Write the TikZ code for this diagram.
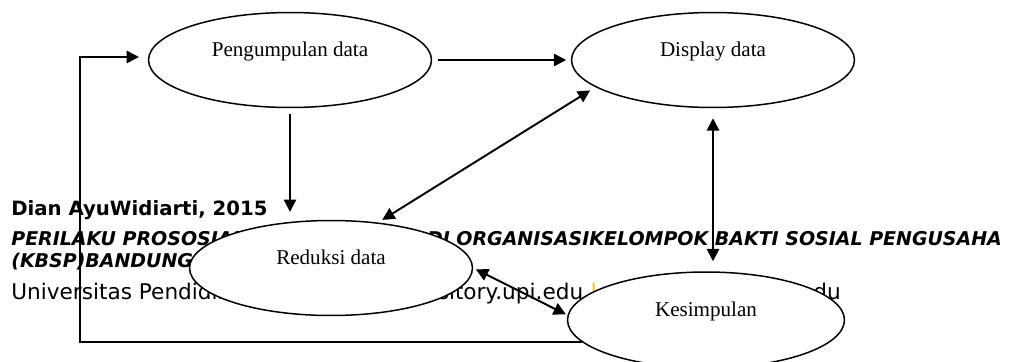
\documentclass[tikz,border=0pt]{standalone}
\usepackage{fontspec}
\setmainfont{Liberation Serif}
\newfontfamily\footfont{DejaVu Sans}
\usetikzlibrary{shapes.geometric,arrows.meta}
\definecolor{upibar}{RGB}{255,192,0}

\begin{document}
\begin{tikzpicture}[x=0.02cm,y=-0.02cm,
    proc/.style={ellipse,draw,fill=white,line width=0.85pt,inner sep=0pt,
      minimum width=5.66cm,minimum height=1.9cm,text height=8pt,text depth=12pt,
      font=\fontsize{12}{14}\selectfont},
    arr/.style={line width=1.1pt,-{Triangle[length=7pt,width=7pt]}},
    both/.style={line width=1.1pt,{Triangle[length=7pt,width=7pt]}-{Triangle[length=7pt,width=7pt]}},
    foot/.style={anchor=base west,inner sep=0pt,font=\footfont\fontsize{10.8}{13}\selectfont}]
  \useasboundingbox (0,0) rectangle (1022,362);
  \node[foot,font=\footfont\fontsize{11.2}{13}\selectfont] (author) at (11,215) {\bfseries Dian AyuWidiarti, 2015};
  \node[foot] (title) at (11,245) {\bfseries\itshape PERILAKU PROSOSIAL SUKARELAWAN \ DI ORGANISASIKELOMPOK BAKTI SOSIAL PENGUSAHA};
  \node[foot] (city) at (11,267) {\bfseries\itshape (KBSP)BANDUNG};
  \node[foot,font=\footfont\fontsize{12.3}{14}\selectfont] (univ) at (11,299) {Universitas Pendidikan Indonesia {\color{upibar}|} repository.upi.edu {\color{upibar}|} perpustakaan.upi.edu};

  \node[proc] (peng) at (290,60) {Pengumpulan data};
  \node[proc] (disp) at (713,60) {Display data};
  \node[proc] (red) at (331,268) {Reduksi data};
  \node[proc,minimum width=5.54cm,minimum height=1.92cm] (kes) at (706,320) {Kesimpulan};
  \coordinate (lt) at (80,57);

  \draw[arr,shorten <=3.4pt,shorten >=2.6pt] (peng) -- (disp);
  \draw[arr,shorten <=3.4pt,shorten >=4.5pt] (peng.south) -- (peng.south |- red.north);
  \draw[both,shorten <=2.8pt,shorten >=3.5pt] (red.44) -- (disp.193);
  \draw[both,shorten <=5.7pt,shorten >=5.7pt] (disp.south) -- (disp.south |- kes.north);
  \draw[both,shorten <=1.7pt,shorten >=1pt] (red.east) -- (kes.178);
  \draw[arr,line width=0.9pt,shorten >=5pt] (kes.190) -| (lt) -- (lt -| peng.west);
\end{tikzpicture}
\end{document}
